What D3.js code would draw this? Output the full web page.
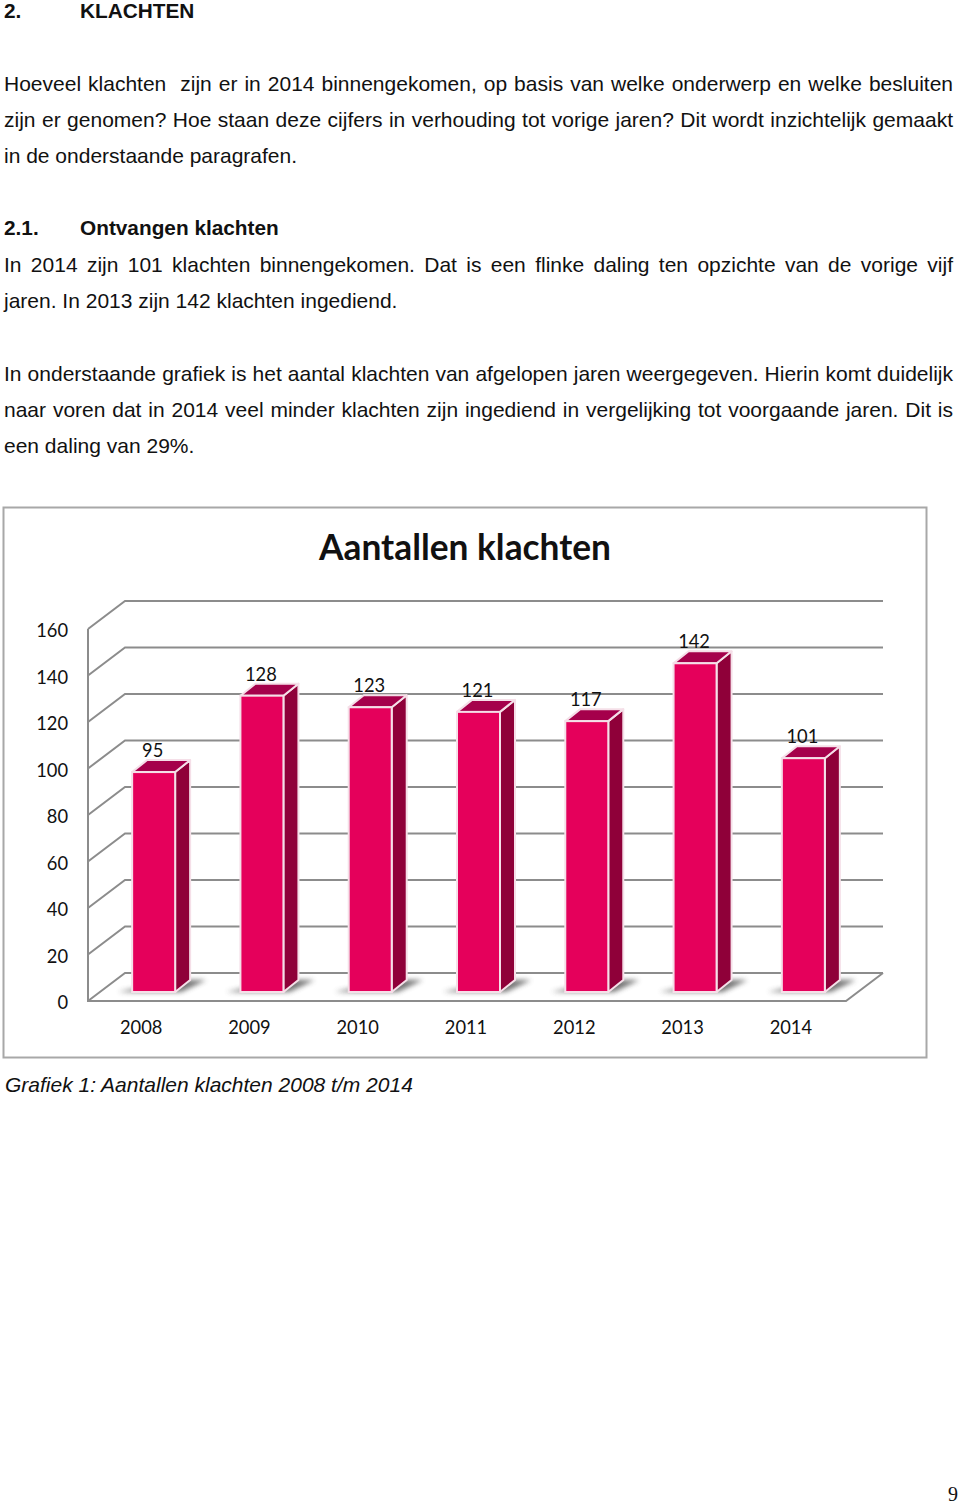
<!DOCTYPE html>
<html>
<head>
<meta charset="utf-8">
<script src="https://cdn.jsdelivr.net/npm/d3@7"></script>
<style>
  html, body { margin: 0; padding: 0; background: #fff; }
  svg { display: block; }
  .page { font-family: "Liberation Sans", Arial, sans-serif; font-size: 21px; fill: #111; }
  .chart text { font-family: Lato, sans-serif; fill: #111; }
  .axis path, .axis line { display: none; }
</style>
</head>
<body>
<svg width="960" height="1505"></svg>
<script>
const years = ["2008", "2009", "2010", "2011", "2012", "2013", "2014"];
const klachten = [95, 128, 123, 121, 117, 142, 101];
const yTicks = [0, 20, 40, 60, 80, 100, 120, 140, 160];

const chartTitle = "Aantallen klachten";
const captionText = "Grafiek 1: Aantallen klachten 2008 t/m 2014";
const pageNumber = "9";

const pageLines = [
  {num: "2.", text: "KLACHTEN", bold: true},
  null,
  {text: "Hoeveel klachten\u00a0 zijn er in 2014 binnengekomen, op basis van welke onderwerp en welke besluiten", justify: true},
  {text: "zijn er genomen? Hoe staan deze cijfers in verhouding tot vorige jaren? Dit wordt inzichtelijk gemaakt", justify: true},
  {text: "in de onderstaande paragrafen."},
  null,
  {num: "2.1.", text: "Ontvangen klachten", bold: true},
  {text: "In 2014 zijn 101 klachten binnengekomen. Dat is een flinke daling ten opzichte van de vorige vijf", justify: true},
  {text: "jaren. In 2013 zijn 142 klachten ingediend."},
  null,
  {text: "In onderstaande grafiek is het aantal klachten van afgelopen jaren weergegeven. Hierin komt duidelijk", justify: true},
  {text: "naar voren dat in 2014 veel minder klachten zijn ingediend in vergelijking tot voorgaande jaren. Dit is", justify: true},
  {text: "een daling van 29%."}
];

const svg = d3.select("svg");

// Page text above the chart
const textLeft = 4, textRight = 953, tabX = 80, firstBaseline = 18.5, leading = 36.2;
const page = svg.append("g").attr("class", "page");

pageLines.forEach(function(d, i) {
  if (!d) return;
  const y = firstBaseline + i * leading;
  if (d.num) {
    page.append("text").attr("x", textLeft).attr("y", y - 0.5)
        .style("font-weight", "bold").style("font-size", "20.8px").text(d.num);
    page.append("text").attr("x", tabX).attr("y", y - 0.5)
        .style("font-weight", "bold").style("font-size", "20.8px").text(d.text);
    return;
  }
  const t = page.append("text").attr("x", textLeft).attr("y", y).text(d.text);
  if (d.justify) {
    const gaps = d.text.split(/[ \u00a0]/).length - 1;
    const extra = (textRight - textLeft - t.node().getComputedTextLength()) / gaps;
    t.style("word-spacing", extra + "px");
  }
});

page.append("text")
    .attr("x", 5).attr("y", 1092)
    .style("font-style", "italic")
    .text(captionText);

page.append("text")
    .attr("x", 958).attr("y", 1500.5)
    .attr("text-anchor", "end")
    .style("font-family", '"Liberation Serif", serif')
    .style("font-size", "20px")
    .text(pageNumber);

// Chart
const chart = svg.append("g").attr("class", "chart");

const defs = svg.append("defs");
defs.append("filter").attr("id", "blur")
    .attr("x", "-30%").attr("y", "-80%").attr("width", "160%").attr("height", "260%")
  .append("feGaussianBlur").attr("stdDeviation", 2.5);

chart.append("rect")
    .attr("x", 3.5).attr("y", 507.5)
    .attr("width", 923).attr("height", 550)
    .attr("fill", "#fff")
    .attr("stroke", "#a8a8a8")
    .attr("stroke-width", 2);

chart.append("text")
    .attr("x", 465).attr("y", 560)
    .attr("text-anchor", "middle")
    .style("font-size", "35.3px")
    .style("font-weight", "bold")
    .text(chartTitle);

const plotLeft = 88, plotRight = 846, plotBottom = 1001, plotTop = 629;
const depthX = 37, depthY = -28;      // back wall offset of the 3D box
const barDepthX = 15, barDepthY = -12; // depth of one column

const xScale = d3.scaleBand().domain(years).range([plotLeft, plotRight]);
const yScale = d3.scaleLinear().domain([0, 160]).range([plotBottom, plotTop]);
// Columns stand inside the box, so they run on a slightly shorter scale
const barScale = d3.scaleLinear().domain([0, 160]).range([992, 621.6]);

const gridColour = "#8c8c8c";

// Gridlines: a slanted piece on the side wall, a long piece on the back wall
const grid = chart.append("g")
    .attr("fill", "none")
    .attr("stroke", gridColour)
    .attr("stroke-width", 2);

grid.selectAll("path")
    .data(yTicks)
  .enter().append("path")
    .attr("d", function(d) {
      const y = yScale(d);
      return d3.line()([[plotLeft, y], [plotLeft + depthX, y + depthY], [plotRight + depthX, y + depthY]]);
    });

// Front edges of the box
grid.append("path")
    .attr("d", d3.line()([
      [plotLeft, yScale(160)],
      [plotLeft, plotBottom],
      [plotRight, plotBottom],
      [plotRight + depthX, plotBottom + depthY]
    ]));

// Draws axes
chart.append("g")
    .attr("class", "axis")
    .attr("transform", "translate(" + plotLeft + ",2)")
    .call(d3.axisLeft(yScale).tickValues(yTicks).tickSize(0).tickPadding(20))
    .selectAll("text")
    .style("font-size", "18.3px");

chart.append("g")
    .attr("class", "axis")
    .attr("transform", "translate(-1," + plotBottom + ")")
    .call(d3.axisBottom(xScale).tickSize(0).tickPadding(20))
    .selectAll("text")
    .style("font-size", "18.3px");

const barInsetX = 11.5, barWidth = 43;
const barEdge = "#f5dfe8";

function barLeft(d) { return xScale(d.year) + xScale.bandwidth() / 2 + barInsetX - barWidth / 2; }
function barTop(d) { return barScale(d.value); }
const barBase = barScale(0);

const bars = chart.selectAll(".bar")
    .data(years.map(function(y, i) { return {year: y, value: klachten[i]}; }))
  .enter().append("g")
    .attr("class", "bar");

// Floor shadow
bars.append("path")
    .attr("fill", "#666")
    .attr("opacity", 0.9)
    .attr("filter", "url(#blur)")
    .attr("d", function(d) {
      const l = barLeft(d);
      return d3.line()([
        [l - 14, barBase],
        [l + barWidth + 6, barBase],
        [l + barWidth + barDepthX + 16, barBase + barDepthY],
        [l + barWidth, barBase + barDepthY]
      ]) + "Z";
    });

// Side face
bars.append("path")
    .attr("fill", "#8f0039")
    .attr("stroke", barEdge)
    .attr("stroke-width", 2)
    .attr("stroke-linejoin", "round")
    .attr("d", function(d) {
      const l = barLeft(d) + barWidth, t = barTop(d);
      return d3.line()([
        [l, t], [l + barDepthX, t + barDepthY],
        [l + barDepthX, barBase + barDepthY], [l, barBase]
      ]) + "Z";
    });

// Top face
bars.append("path")
    .attr("fill", "#a5004b")
    .attr("stroke", barEdge)
    .attr("stroke-width", 2)
    .attr("stroke-linejoin", "round")
    .attr("d", function(d) {
      const l = barLeft(d), t = barTop(d);
      return d3.line()([
        [l, t], [l + barWidth, t],
        [l + barWidth + barDepthX, t + barDepthY], [l + barDepthX, t + barDepthY]
      ]) + "Z";
    });

// Front face
bars.append("rect")
    .attr("x", barLeft)
    .attr("y", barTop)
    .attr("width", barWidth)
    .attr("height", function(d) { return barBase - barTop(d); })
    .attr("fill", "#e5005b")
    .attr("stroke", barEdge)
    .attr("stroke-width", 2);

// Value labels
bars.append("text")
    .attr("x", function(d) { return barLeft(d) + barWidth / 2 - 1; })
    .attr("y", function(d) { return barTop(d) - 15; })
    .attr("text-anchor", "middle")
    .style("font-size", "18.3px")
    .text(function(d) { return d.value; });
</script>
</body>
</html>
